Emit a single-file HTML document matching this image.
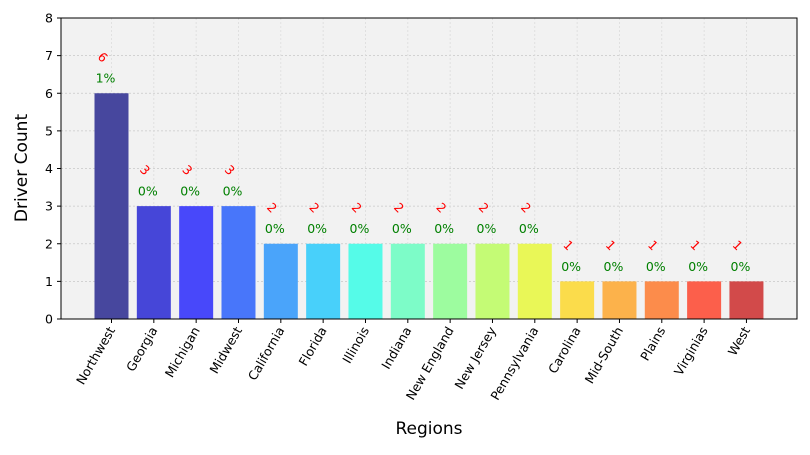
<!DOCTYPE html>
<html><head><meta charset="utf-8"><style>
body{margin:0;background:#fff;}
svg{font-family:"DejaVu Sans","Liberation Sans",sans-serif;}
</style></head><body>
<svg id="chart" width="810" height="450" xmlns="http://www.w3.org/2000/svg">
<rect x="61" y="18" width="736" height="301" fill="#f2f2f2"/>
<g id="grid"></g><g id="bars"></g><g id="labels"></g><g id="axes"></g>
<text x="27" y="168" transform="rotate(-90 27 168)" text-anchor="middle" font-size="17">Driver Count</text>
<text x="429" y="434" text-anchor="middle" font-size="17">Regions</text>
</svg>
<script>
const categories=["Northwest","Georgia","Michigan","Midwest","California","Florida","Illinois","Indiana","New England","New Jersey","Pennsylvania","Carolina","Mid-South","Plains","Virginias","West"];
const counts=[6,3,3,3,2,2,2,2,2,2,2,1,1,1,1,1];
const percents=["1%","0%","0%","0%","0%","0%","0%","0%","0%","0%","0%","0%","0%","0%","0%","0%"];
const yTicks=[0,1,2,3,4,5,6,7,8];
const colors=["#47479e","#4646d8","#4848fa","#4876fa","#4aa4fa","#48d0fa","#55fbe8","#7dfcc8","#9dfc9f","#c4fb75","#e9f757","#fbdc4b","#fcb24b","#fc8c4b","#fc5f4b","#d24a4a"];
const NS="http://www.w3.org/2000/svg";
const yS=v=>319-v*37.625;
const xS=i=>111.5+i*42.33;
const bw=34;
function mk(tag,attrs,parent,txt){const e=document.createElementNS(NS,tag);for(const k in attrs)e.setAttribute(k,attrs[k]);if(txt!==undefined)e.textContent=txt;document.getElementById(parent).appendChild(e);return e;}
yTicks.forEach(t=>{
 const g=mk('line',{x1:61,x2:797,y1:yS(t),y2:yS(t),stroke:'#c8c8c8','stroke-dasharray':'2,2','stroke-width':0.8},'grid');
 
 
 const tk=mk('line',{x1:57,x2:61,y1:yS(t),y2:yS(t),stroke:'#000'},'axes');
 
 
 const l=mk('text',{x:53,y:yS(t)+4.5,'text-anchor':'end','font-size':12.5},'axes',String(t));
 
 
});
categories.forEach((c,i)=>{
 const x=xS(i);
 const g=mk('line',{x1:x,x2:x,y1:18,y2:319,stroke:'#dcdcdc','stroke-dasharray':'2,2','stroke-width':0.8},'grid');
 
 
 const b=mk('rect',{x:x-bw/2,y:yS(counts[i]),width:bw,height:yS(0)-yS(counts[i]),fill:colors[i]},'bars');
 
 
 const cy=yS(counts[i]+0.95)+4;
 const cl=mk('text',{x:x-9,y:cy,'text-anchor':'middle','font-size':12.5,fill:'red',transform:`rotate(45 ${x-9} ${cy-4})`},'labels',String(counts[i]));
 
 
 const pl=mk('text',{x:x-6,y:yS(counts[i]+0.4)+4.5,'text-anchor':'middle','font-size':12.5,fill:'green'},'labels',percents[i]);
 
 
 const tk=mk('line',{x1:x,x2:x,y1:319,y2:323,stroke:'#000'},'axes');
 
 
 const lx=x+4,ly=330;
 const xl=mk('text',{x:lx,y:ly,'text-anchor':'end','font-size':12.5,transform:`rotate(-60 ${lx} ${ly})`},'axes',c);
 
 
});
const f=mk('rect',{x:61,y:18,width:736,height:301,fill:'none',stroke:'#000','stroke-width':1},'axes');


</script>
</body></html>
